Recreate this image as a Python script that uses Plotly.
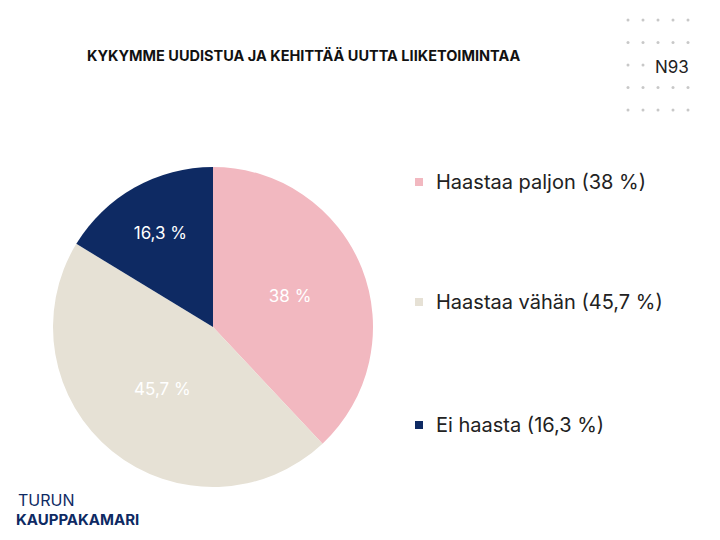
import plotly.graph_objects as go

labels = ["Haastaa paljon", "Haastaa vähän", "Ei haasta"]
values = [38.0, 45.7, 16.3]
value_text = ["38 %", "45,7 %", "16,3 %"]
colors = ["#F2B8C0", "#E6E1D5", "#0E2A63"]
title = "KYKYMME UUDISTUA JA KEHITTÄÄ UUTTA LIIKETOIMINTAA"

W, H = 712, 532
OFF = 8
def px(x): return (x - OFF) / W
def py(y): return 1 - (y - OFF) / H

fig = go.Figure(go.Pie(
    labels=labels, values=values, text=value_text, textinfo="text",
    sort=False, direction="clockwise", rotation=0,
    marker=dict(colors=colors, line=dict(color="white", width=0)),
    textfont=dict(family="Inter, Roboto, sans-serif", size=17, color="white"),
    insidetextorientation="horizontal", showlegend=False,
    domain=dict(x=[px(53), px(373)], y=[py(487), py(167)]),
))

shapes, ann = [], []
for i in range(5):
    for j in range(5):
        cx, cy = 628 + 15*i, 20 + 22.5*j
        shapes.append(dict(type="circle", xref="paper", yref="paper",
                           x0=px(cx-1.5), x1=px(cx+1.5), y0=py(cy+1.5), y1=py(cy-1.5),
                           fillcolor="#C8C8C8", line=dict(width=0)))
def A(x, y, text, size, color="#222", xanchor="center", **kw):
    ann.append(dict(x=px(x), y=py(y), xref="paper", yref="paper", text=text, showarrow=False,
                    xanchor=xanchor, yanchor="middle",
                    font=dict(family="Inter, Roboto, sans-serif", size=size, color=color), **kw))

A(672, 67, "N93", 17, bgcolor="white")
A(303, 55, "<b>"+title+"</b>", 14.5, color="#111")
leg_y = [182, 302, 425]
for lab, vt, c, y in zip(labels, value_text, colors, leg_y):
    shapes.append(dict(type="rect", xref="paper", yref="paper",
                       x0=px(415), x1=px(423), y0=py(y+4), y1=py(y-4),
                       fillcolor=c, line=dict(width=0)))
    A(434, y, f"{lab} ({vt})", 20, xanchor="left")
A(16, 500, "TURUN", 16, color="#0E2A63", xanchor="left")
A(14, 519, "<b>KAUPPAKAMARI</b>", 15, color="#0E2A63", xanchor="left")

fig.update_layout(width=W, height=H, margin=dict(l=0, r=0, t=0, b=0),
                  paper_bgcolor="white", plot_bgcolor="white",
                  shapes=shapes, annotations=ann)
fig.write_html("out.html")
